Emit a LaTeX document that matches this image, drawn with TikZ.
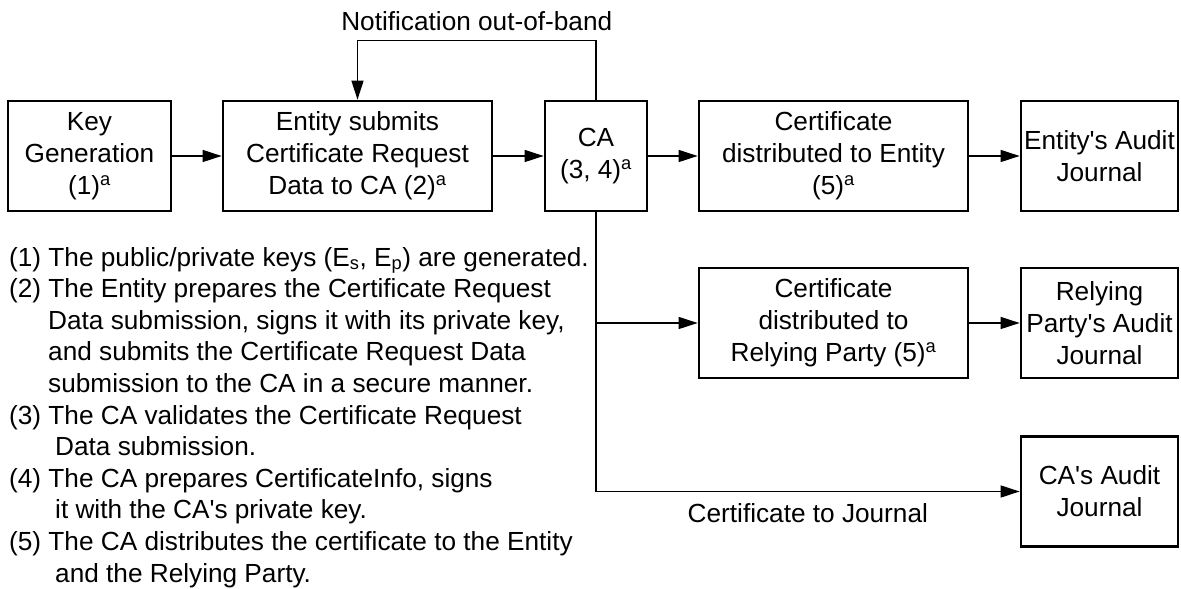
\documentclass[tikz,border=0pt]{standalone}
\usepackage{fontspec}
\setmainfont{Liberation Sans}
\usepackage{tikz}
\usetikzlibrary{arrows.meta}
\usetikzlibrary{calc}

\begin{document}
\begin{tikzpicture}[x=1pt,y=1pt,
  font=\fontsize{26.2}{32}\selectfont,
  box/.style={draw,line width=2.7pt,inner sep=0pt,minimum height=110pt,align=center},
  tip/.style={-{Triangle[length=19pt,width=12pt]},line width=1.3pt}]
\useasboundingbox (0,0) rectangle (1181,589);
\node[box,minimum width=163pt] (kg) at (89.5,433) {Key\\Generation\\(1)\textsuperscript{a}};
\node[box,minimum width=269pt] (esub) at (357.5,433) {Entity submits\\Certificate Request\\Data to CA (2)\textsuperscript{a}};
\node[box,minimum width=102pt] (ca) at (596,433) {CA\\(3, 4)\textsuperscript{a}};
\node[box,minimum width=269pt] (cde) at (833.5,433) {Certificate\\distributed to Entity\\(5)\textsuperscript{a}};
\node[box,minimum width=157pt] (eaj) at (1099.5,433) {Entity\textquotesingle s Audit\\Journal};
\node[box,minimum width=269pt] (cdr) at (833.5,266) {Certificate\\distributed to\\Relying Party (5)\textsuperscript{a}};
\node[box,minimum width=157pt] (raj) at (1099.5,266) {Relying\\Party\textquotesingle s Audit\\Journal};
\node[box,minimum width=157pt] (caj) at (1099.5,97.5) {CA\textquotesingle s Audit\\Journal};
\node[anchor=north west,inner sep=0pt,align=left,font=\fontsize{26.2}{31.6}\selectfont] (notes) at (9,342)
  {(1) The public/private keys (E\textsubscript{s}, E\textsubscript{p}) are generated.\\
   (2) The Entity prepares the Certificate Request\\
   \hspace*{39pt}Data submission, signs it with its private key,\\
   \hspace*{39pt}and submits the Certificate Request Data\\
   \hspace*{39pt}submission to the CA in a secure manner.\\
   (3) The CA validates the Certificate Request\\
   \hspace*{46pt}Data submission.\\
   (4) The CA prepares CertificateInfo, signs\\
   \hspace*{46pt}it with the CA\textquotesingle s private key.\\
   (5) The CA distributes the certificate to the Entity\\
   \hspace*{46pt}and the Relying Party.};
\coordinate (split) at (ca.south |- cdr.west);
\path[tip]
  (kg) edge (esub)
  (esub) edge (ca)
  (ca) edge (cde)
  (cde) edge (eaj)
  (cdr) edge (raj)
  (split) edge (cdr);
\draw[tip] (ca.north) -- ++(0,59) -| node[pos=0.25,above=6pt] {Notification out-of-band} (esub.north);
\draw[tip] (ca.south) |- node[pos=0.75,below=8pt] {Certificate to Journal} (caj.west);
\end{tikzpicture}
\end{document}
